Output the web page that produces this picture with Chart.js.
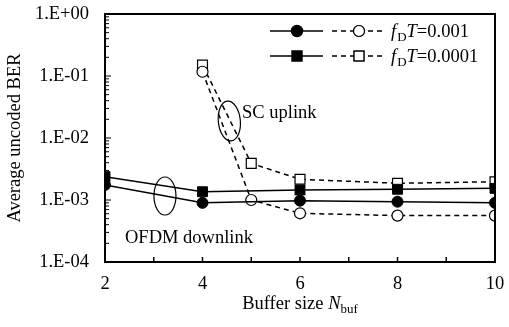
<!DOCTYPE html>
<html>
<head>
<meta charset="utf-8">
<script src="https://cdn.jsdelivr.net/npm/chart.js@4.4.0/dist/chart.umd.min.js"></script>
<style>
  html, body { margin: 0; padding: 0; background: #fff; }
  #wrap { width: 509px; height: 327px; }
</style>
</head>
<body>
<div id="wrap"><canvas id="grafico" width="509" height="327"></canvas></div>
<script>
// datos
const bufOfdm = [2, 4, 6, 8, 10];
const berOfdm001 = [1.75e-3, 9.0e-4, 9.75e-4, 9.4e-4, 9.0e-4];
const berOfdm0001 = [2.38e-3, 1.36e-3, 1.45e-3, 1.49e-3, 1.54e-3];

const bufSc = [4, 5, 6, 8, 10];
const berSc001 = [0.117, 1.0e-3, 6.1e-4, 5.6e-4, 5.6e-4];
const berSc0001 = [0.15, 3.9e-3, 2.16e-3, 1.86e-3, 1.97e-3];

const yDecadas = [1e-4, 1e-3, 1e-2, 1e-1, 1];
const leyendaValores = ['0.001', '0.0001'];

const FUENTE = '"Liberation Serif", "Times New Roman", serif';
const TAM = 18.5;

function puntos(xs, ys) {
    return xs.map((x, i) => ({ x: x, y: ys[i] }));
}

function etiquetaExp(v) {
    let e = Math.round(Math.log10(v));
    let s = Math.abs(e).toString().padStart(2, '0');
    return '1.E' + (e >= 0 ? '+' : '-') + s;
}

// dibuja marco, ticks internos, titulos, leyenda y anotaciones
const extras = {
    id: 'extras',
    afterDraw(chart) {
        const ctx = chart.ctx;
        const a = chart.chartArea;
        const sx = chart.scales.x;
        const sy = chart.scales.y;
        const f = (s, it) => (it ? 'italic ' : '') + s + 'px ' + FUENTE;
        ctx.save();
        ctx.strokeStyle = '#000';
        ctx.fillStyle = '#000';

        // ticks internos eje x
        ctx.lineWidth = 1.5;
        for (let v = 3; v < 10; v++) {
            let px = sx.getPixelForValue(v);
            ctx.beginPath();
            ctx.moveTo(px, a.bottom);
            ctx.lineTo(px, a.bottom - 5);
            ctx.stroke();
        }
        // ticks internos eje y (log)
        ctx.lineWidth = 1;
        for (let d = -4; d < 0; d++) {
            for (let m = 1; m <= 9; m++) {
                let v = m * Math.pow(10, d);
                let py = sy.getPixelForValue(v);
                let largo = m === 1 ? 6 : 4;
                ctx.beginPath();
                ctx.moveTo(a.left, py);
                ctx.lineTo(a.left + largo, py);
                ctx.stroke();
            }
        }

        // marco
        ctx.lineWidth = 2;
        ctx.strokeRect(a.left, a.top, a.right - a.left, a.bottom - a.top);

        // titulo eje y
        ctx.font = f(TAM);
        ctx.textAlign = 'center';
        ctx.textBaseline = 'middle';
        ctx.save();
        ctx.translate(15, (a.top + a.bottom) / 2);
        ctx.rotate(-Math.PI / 2);
        ctx.fillText('Average uncoded BER', 0, 0);
        ctx.restore();

        // titulo eje x: Buffer size N_buf
        ctx.textBaseline = 'alphabetic';
        ctx.textAlign = 'left';
        let t1 = 'Buffer size ';
        ctx.font = f(TAM);
        let w1 = ctx.measureText(t1).width;
        ctx.font = f(TAM, true);
        let w2 = ctx.measureText('N').width;
        ctx.font = f(13);
        let w3 = ctx.measureText('buf').width;
        let x0 = (a.left + a.right) / 2 - (w1 + w2 + w3) / 2;
        let yb = 309;
        ctx.font = f(TAM);
        ctx.fillText(t1, x0, yb);
        ctx.font = f(TAM, true);
        ctx.fillText('N', x0 + w1, yb);
        ctx.font = f(13);
        ctx.fillText('buf', x0 + w1 + w2, yb + 4);

        // leyenda
        const filas = [31, 56];
        const estilos = ['circle', 'rect'];
        filas.forEach((fy, i) => {
            ctx.lineWidth = 1.5;
            ctx.setLineDash([]);
            ctx.beginPath();
            ctx.moveTo(270, fy);
            ctx.lineTo(323, fy);
            ctx.stroke();
            Chart.helpers.drawPoint(ctx, { pointStyle: estilos[i], radius: i === 0 ? 5.5 : 7, borderWidth: 1 }, 297, fy);
            ctx.fillStyle = '#000';
            ctx.fill();
            ctx.setLineDash([5, 4]);
            ctx.beginPath();
            ctx.moveTo(332, fy);
            ctx.lineTo(384, fy);
            ctx.stroke();
            ctx.setLineDash([]);
            ctx.fillStyle = '#fff';
            ctx.lineWidth = 1.2;
            Chart.helpers.drawPoint(ctx, { pointStyle: estilos[i], radius: i === 0 ? 5.5 : 7, borderWidth: 1.2 }, 359, fy);
            ctx.fill();
            ctx.stroke();

            // texto f_D T=valor
            ctx.fillStyle = '#000';
            let tx = 391, tb = fy + 6;
            ctx.font = f(TAM, true);
            ctx.fillText('f', tx, tb);
            tx += ctx.measureText('f').width + 1;
            ctx.font = f(13);
            ctx.fillText('D', tx, tb + 4);
            tx += ctx.measureText('D').width;
            ctx.font = f(TAM, true);
            ctx.fillText('T', tx, tb);
            tx += ctx.measureText('T').width;
            ctx.font = f(TAM);
            ctx.fillText('=' + leyendaValores[i], tx, tb);
        });

        // anotaciones
        ctx.lineWidth = 1.2;
        ctx.setLineDash([]);
        ctx.beginPath();
        ctx.ellipse(sx.getPixelForValue(4.55), sy.getPixelForValue(0.0188), 11, 20, -0.1, 0, Math.PI * 2);
        ctx.stroke();
        ctx.beginPath();
        ctx.ellipse(sx.getPixelForValue(3.23), sy.getPixelForValue(1.16e-3), 11, 19, 0, 0, Math.PI * 2);
        ctx.stroke();

        ctx.font = f(TAM);
        ctx.textBaseline = 'middle';
        ctx.fillText('SC uplink', sx.getPixelForValue(4.81), sy.getPixelForValue(0.0253));
        ctx.fillText('OFDM downlink', sx.getPixelForValue(2.41), sy.getPixelForValue(2.44e-4));

        ctx.restore();
    }
};

const ctx = document.getElementById('grafico').getContext('2d');
const chart = new Chart(ctx, {
    type: 'line',
    data: {
        datasets: [
            {
                label: 'OFDM fDT=0.001',
                data: puntos(bufOfdm, berOfdm001),
                borderColor: '#000',
                backgroundColor: '#000',
                borderWidth: 1.5,
                pointStyle: 'circle',
                pointRadius: 5.5,
                pointBorderWidth: 1
            },
            {
                label: 'OFDM fDT=0.0001',
                data: puntos(bufOfdm, berOfdm0001),
                borderColor: '#000',
                backgroundColor: '#000',
                borderWidth: 1.5,
                pointStyle: 'rect',
                pointRadius: 7,
                pointBorderWidth: 1
            },
            {
                label: 'SC fDT=0.001',
                data: puntos(bufSc, berSc001),
                borderColor: '#000',
                backgroundColor: '#fff',
                borderWidth: 1.5,
                borderDash: [5, 4],
                pointStyle: 'circle',
                pointRadius: 5.5,
                pointBorderWidth: 1.2
            },
            {
                label: 'SC fDT=0.0001',
                data: puntos(bufSc, berSc0001),
                borderColor: '#000',
                backgroundColor: '#fff',
                borderWidth: 1.5,
                borderDash: [5, 4],
                pointStyle: 'rect',
                pointRadius: 7,
                pointBorderWidth: 1.2
            }
        ]
    },
    options: {
        responsive: false,
        animation: false,
        devicePixelRatio: 1,
        layout: { padding: { top: 14, right: 14, left: 0, bottom: 0 } },
        plugins: { legend: { display: false }, tooltip: { enabled: false } },
        scales: {
            x: {
                type: 'linear',
                min: 2,
                max: 10,
                grid: { display: false, drawTicks: false },
                border: { display: false },
                ticks: {
                    stepSize: 1,
                    padding: 11,
                    color: '#000',
                    font: { family: FUENTE, size: TAM },
                    maxRotation: 0,
                    autoSkip: false,
                    callback: v => (v % 2 === 0 ? String(v) : '')
                },
                afterFit: s => { s.height = 65; s.paddingLeft = 0; s.paddingRight = 0; }
            },
            y: {
                type: 'logarithmic',
                min: 1e-4,
                max: 1,
                grid: { display: false, drawTicks: false },
                border: { display: false },
                afterBuildTicks: s => { s.ticks = yDecadas.map(v => ({ value: v })); },
                ticks: {
                    padding: 16,
                    color: '#000',
                    font: { family: FUENTE, size: TAM },
                    autoSkip: false,
                    callback: v => etiquetaExp(v)
                },
                afterFit: s => { s.width = 105; s.paddingTop = 0; s.paddingBottom = 0; }
            }
        }
    },
    plugins: [extras]
});
</script>
</body>
</html>
